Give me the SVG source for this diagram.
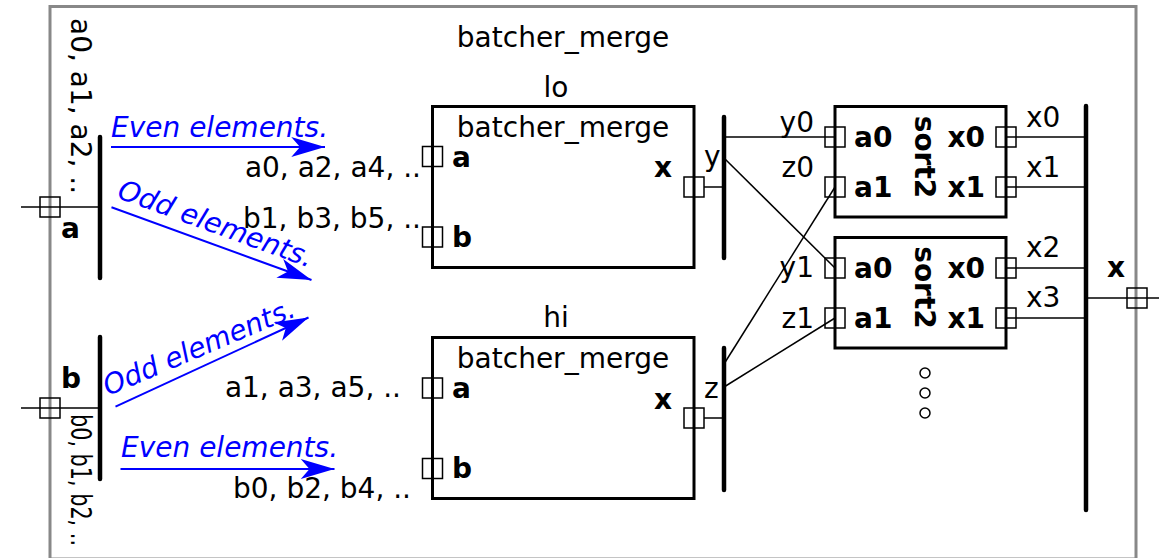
<svg xmlns="http://www.w3.org/2000/svg" width="1159" height="558" viewBox="0 0 1159 558">
<style>
text{font-family:"DejaVu Sans","Liberation Sans",sans-serif;font-size:28px;fill:#000}
.b{font-weight:bold}
.m{text-anchor:middle}
.e{text-anchor:end}
.blue{fill:#0000ff;font-style:italic}
.box{fill:#fff;stroke:#000;stroke-width:3}
.port{fill:none;stroke:#000;stroke-width:1.5}
.bus{stroke:#000;stroke-width:4.5;stroke-linecap:round;fill:none}
.wire{stroke:#000;stroke-width:1.5;fill:none}
.arr{stroke:#0000ff;stroke-width:2;fill:none;marker-end:url(#ah)}
</style>
<defs>
<marker id="ah" markerUnits="userSpaceOnUse" orient="auto" refX="0" refY="0" markerWidth="40" markerHeight="40" viewBox="-30 -10 32 20" overflow="visible">
<path d="M0,0 L-27,-8 L-20,0 L-27,8 Z" fill="#0000ff" stroke="none"/>
</marker>
</defs>
<rect x="50" y="6.5" width="1086" height="552.5" fill="#fff" stroke="#888" stroke-width="3"/>
<text class="m" x="563" y="47">batcher_merge</text>

<g id="connectors">
<line class="bus" x1="100" y1="137" x2="100" y2="278"/>
<line class="bus" x1="100" y1="337" x2="100" y2="479"/>
<line class="bus" x1="724" y1="117" x2="724" y2="258"/>
<line class="bus" x1="724" y1="348" x2="724" y2="490"/>
<line class="bus" x1="1086" y1="106" x2="1086" y2="510"/>
<line class="wire" x1="21" y1="207" x2="100" y2="207"/>
<line class="wire" x1="21" y1="408" x2="100" y2="408"/>
<line class="wire" x1="1086" y1="298" x2="1159" y2="298"/>
<line class="wire" x1="704" y1="187" x2="724" y2="187"/>
<line class="wire" x1="704" y1="418" x2="724" y2="418"/>
<line class="wire" x1="724" y1="137" x2="835" y2="137"/>
<line class="wire" x1="724" y1="158" x2="835" y2="268"/>
<line class="wire" x1="724" y1="364" x2="835" y2="187"/>
<line class="wire" x1="724" y1="387" x2="835" y2="318"/>
<line class="wire" x1="1006" y1="137" x2="1086" y2="137"/>
<line class="wire" x1="1006" y1="187" x2="1086" y2="187"/>
<line class="wire" x1="1006" y1="268" x2="1086" y2="268"/>
<line class="wire" x1="1006" y1="318" x2="1086" y2="318"/>
<line class="arr" x1="111" y1="147" x2="325" y2="147"/>
<line class="arr" x1="111.5" y1="207.3" x2="311.5" y2="280"/>
<line class="arr" x1="115.5" y1="406.7" x2="308.5" y2="317.5"/>
<line class="arr" x1="120.5" y1="469" x2="334.5" y2="469"/>
</g>

<g id="frame-ports">
<rect class="port" x="40" y="197" width="20" height="20"/>
<rect class="port" x="40" y="398" width="20" height="20"/>
<rect class="port" x="1127" y="288" width="20" height="20"/>
<text class="b" x="61" y="238">a</text>
<text class="b" x="61" y="388">b</text>
<text class="b" x="1107" y="277">x</text>
<text transform="translate(70.5,18) rotate(90)">a0, a1, a2, ..</text>
<text transform="translate(70.5,414) rotate(90)" textLength="132" lengthAdjust="spacingAndGlyphs">b0, b1, b2, ..</text>
<text x="704" y="166">y</text>
<text x="704" y="398">z</text>
</g>

<g id="labels">
<text class="blue" x="111" y="137">Even elements.</text>
<text class="blue" transform="translate(116,197.5) rotate(20)">Odd elements.</text>
<text class="blue" transform="translate(108,396) rotate(-23)">Odd elements.</text>
<text class="blue" x="121" y="457">Even elements.</text>
<text class="e" x="421" y="177">a0, a2, a4, ..</text>
<text class="e" x="421" y="228">b1, b3, b5, ..</text>
<text class="e" x="401" y="397">a1, a3, a5, ..</text>
<text class="e" x="411" y="498">b0, b2, b4, ..</text>
<text class="e" x="814" y="131.5">y0</text>
<text class="e" x="814" y="177">z0</text>
<text class="e" x="814" y="276.5">y1</text>
<text class="e" x="814" y="327.5">z1</text>
<text x="1026" y="126.5">x0</text>
<text x="1026" y="177">x1</text>
<text x="1026" y="256.5">x2</text>
<text x="1026" y="307">x3</text>
</g>

<g id="lo">
<text class="m" x="556" y="96.5">lo</text>
<rect class="box" x="432.5" y="106.5" width="261.5" height="161"/>
<text class="m" x="563" y="137">batcher_merge</text>
<rect class="port" x="422.5" y="146.5" width="20" height="20"/>
<rect class="port" x="422.5" y="227" width="20" height="20"/>
<rect class="port" x="684" y="177" width="20" height="20"/>
<text class="b" x="452" y="167">a</text>
<text class="b" x="452" y="247">b</text>
<text class="b e" x="672" y="177">x</text>
</g>

<g id="hi">
<text class="m" x="556" y="327">hi</text>
<rect class="box" x="432.5" y="337.5" width="261.5" height="161"/>
<text class="m" x="563" y="368">batcher_merge</text>
<rect class="port" x="422.5" y="378" width="20" height="20"/>
<rect class="port" x="422.5" y="458.5" width="20" height="20"/>
<rect class="port" x="684" y="408" width="20" height="20"/>
<text class="b" x="452" y="398">a</text>
<text class="b" x="452" y="478">b</text>
<text class="b e" x="672" y="408.5">x</text>
</g>

<g id="sort2-0">
<rect class="box" x="835" y="106.5" width="171" height="110.5"/>
<rect class="port" x="825" y="127" width="20" height="20"/>
<rect class="port" x="825" y="177" width="20" height="20"/>
<rect class="port" x="996" y="127" width="20" height="20"/>
<rect class="port" x="996" y="177" width="20" height="20"/>
<text class="b" x="854" y="147">a0</text>
<text class="b" x="854" y="197">a1</text>
<text class="b e" x="985" y="147">x0</text>
<text class="b e" x="985" y="197">x1</text>
<text class="b m" transform="translate(915,157) rotate(90)">sort2</text>
</g>

<g id="sort2-1">
<rect class="box" x="835" y="237.5" width="171" height="110.5"/>
<rect class="port" x="825" y="258" width="20" height="20"/>
<rect class="port" x="825" y="308" width="20" height="20"/>
<rect class="port" x="996" y="258" width="20" height="20"/>
<rect class="port" x="996" y="308" width="20" height="20"/>
<text class="b" x="854" y="277.5">a0</text>
<text class="b" x="854" y="327.5">a1</text>
<text class="b e" x="985" y="277.5">x0</text>
<text class="b e" x="985" y="327.5">x1</text>
<text class="b m" transform="translate(915,287.5) rotate(90)">sort2</text>
</g>

<g id="ellipsis">
<circle cx="925" cy="373" r="5" fill="none" stroke="#000" stroke-width="1.5"/>
<circle cx="925" cy="393" r="5" fill="none" stroke="#000" stroke-width="1.5"/>
<circle cx="925" cy="413" r="5" fill="none" stroke="#000" stroke-width="1.5"/>
</g>
</svg>
